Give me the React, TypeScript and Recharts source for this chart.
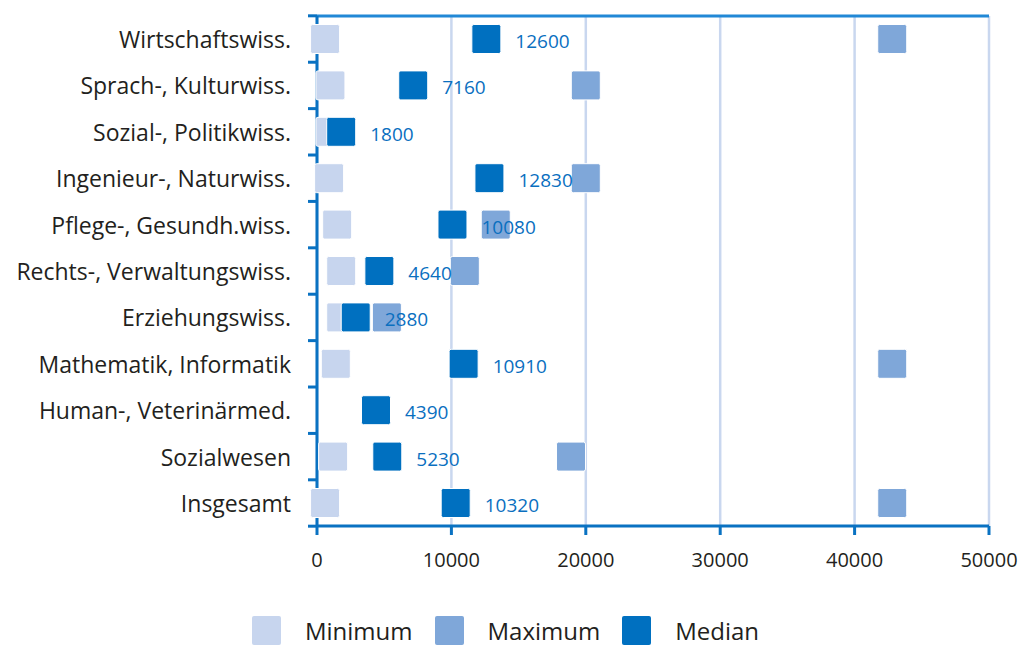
import React from "react";
import {
  ComposedChart,
  Scatter,
  XAxis,
  YAxis,
  CartesianGrid,
  Legend,
} from "recharts";

const categories = [
  "Wirtschaftswiss.",
  "Sprach-, Kulturwiss.",
  "Sozial-, Politikwiss.",
  "Ingenieur-, Naturwiss.",
  "Pflege-, Gesundh.wiss.",
  "Rechts-, Verwaltungswiss.",
  "Erziehungswiss.",
  "Mathematik, Informatik",
  "Human-, Veterinärmed.",
  "Sozialwesen",
  "Insgesamt",
];
const minimum = [600, 1000, 1000, 900, 1500, 1800, 1800, 1400, null, 1200, 600];
const maximum = [42800, 20000, null, 20000, 13300, 11000, 5200, 42800, null, 18900, 42800];
const median = [12600, 7160, 1800, 12830, 10080, 4640, 2880, 10910, 4390, 5230, 10320];
const xTicks = [0, 10000, 20000, 30000, 40000, 50000];
const legendOrder = ["Minimum", "Maximum", "Median"];

const data = categories.map((name, i) => ({
  name,
  min: minimum[i],
  max: maximum[i],
  median: median[i],
}));

const COLORS = { min: "#c7d5ee", max: "#7fa7d9", median: "#0070c0" };
const AXIS = "#0a72c2";
const FONT = "'Open Sans', sans-serif";
const SIZE = 29;
const TICK_MARGIN = 26;

const makeShape = (key: "min" | "max" | "median", withLabel = false) => (props: any) => {
  const { cx, cy, payload } = props;
  if (payload == null || payload[key] == null || !isFinite(cx)) return <g />;
  return (
    <g>
      <rect
        x={cx - SIZE / 2}
        y={cy - SIZE / 2}
        width={SIZE}
        height={SIZE}
        rx={2}
        fill={COLORS[key]}
        stroke="#fff"
        strokeWidth={1}
      />
      {withLabel && (
        <text
          x={cx + 29}
          y={cy + 2}
          dominantBaseline="central"
          fill="#0a6fbf"
          fontSize={19}
          fontFamily={FONT}
        >
          {payload[key]}
        </text>
      )}
    </g>
  );
};

// category label, plus a tick mark on the boundary between rows
const CategoryTick = (props: any) => {
  const { x, y, payload, index } = props;
  const count = props.visibleTicksCount || categories.length;
  const band = (Number(props.height) || 510) / count;
  const right = x + TICK_MARGIN;
  return (
    <g>
      <text
        x={x}
        y={y}
        textAnchor="end"
        dominantBaseline="central"
        fill="#231f20"
        fontSize={23}
        fontFamily={FONT}
      >
        {payload.value}
      </text>
      <line x1={right - 9} x2={right} y1={y - band / 2} y2={y - band / 2} stroke={AXIS} strokeWidth={3} />
      {index === count - 1 && (
        <line x1={right - 9} x2={right} y1={y + band / 2} y2={y + band / 2} stroke={AXIS} strokeWidth={3} />
      )}
    </g>
  );
};

const renderLegend = (props: any) => {
  const items = [...props.payload].sort(
    (a: any, b: any) => legendOrder.indexOf(a.value) - legendOrder.indexOf(b.value)
  );
  return (
    <div
      style={{
        display: "flex",
        justifyContent: "center",
        alignItems: "center",
        paddingTop: 30,
        paddingLeft: 22,
        fontFamily: FONT,
        fontSize: 24,
        lineHeight: "29px",
        color: "#231f20",
        gap: 22,
      }}
    >
      {items.map((p: any) => (
        <div key={p.value} style={{ display: "flex", alignItems: "center" }}>
          <span
            style={{
              display: "inline-block",
              width: SIZE,
              height: SIZE,
              background: p.color,
              borderRadius: 2,
              marginRight: 24,
            }}
          />
          <span>{p.value}</span>
        </div>
      ))}
    </div>
  );
};

export default function App() {
  return (
    <div style={{ position: "absolute", left: 0, top: 0, background: "#fff" }}>
      <ComposedChart
        width={1020}
        height={646}
        data={data}
        layout="vertical"
        margin={{ top: 15, right: 31, bottom: 0, left: 0 }}
      >
        <CartesianGrid horizontal={false} stroke="#c9d7ef" strokeWidth={2.5} />
        <XAxis
          type="number"
          domain={[0, 50000]}
          ticks={xTicks}
          axisLine={{ stroke: AXIS, strokeWidth: 3 }}
          tickLine={{ stroke: AXIS, strokeWidth: 3 }}
          tickSize={9}
          tickMargin={18}
          tick={{ fill: "#231f20", fontSize: 20, fontFamily: FONT }}
          height={60}
        />
        <XAxis
          xAxisId="top"
          orientation="top"
          type="number"
          domain={[0, 50000]}
          tick={false}
          tickLine={false}
          axisLine={{ stroke: "#2188d6", strokeWidth: 3 }}
          height={1}
        />
        <YAxis
          type="category"
          dataKey="name"
          width={317}
          padding={{ top: 23, bottom: 23 }}
          axisLine={{ stroke: AXIS, strokeWidth: 3 }}
          tickLine={false}
          tickSize={0}
          tickMargin={TICK_MARGIN}
          tick={<CategoryTick />}
          interval={0}
        />
        <Scatter
          name="Minimum"
          dataKey="min"
          fill={COLORS.min}
          shape={makeShape("min")}
          isAnimationActive={false}
        />
        <Scatter
          name="Maximum"
          dataKey="max"
          fill={COLORS.max}
          shape={makeShape("max")}
          isAnimationActive={false}
        />
        <Scatter
          name="Median"
          dataKey="median"
          fill={COLORS.median}
          shape={makeShape("median", true)}
          isAnimationActive={false}
        />
        <Legend verticalAlign="bottom" height={60} content={renderLegend} />
      </ComposedChart>
    </div>
  );
}
